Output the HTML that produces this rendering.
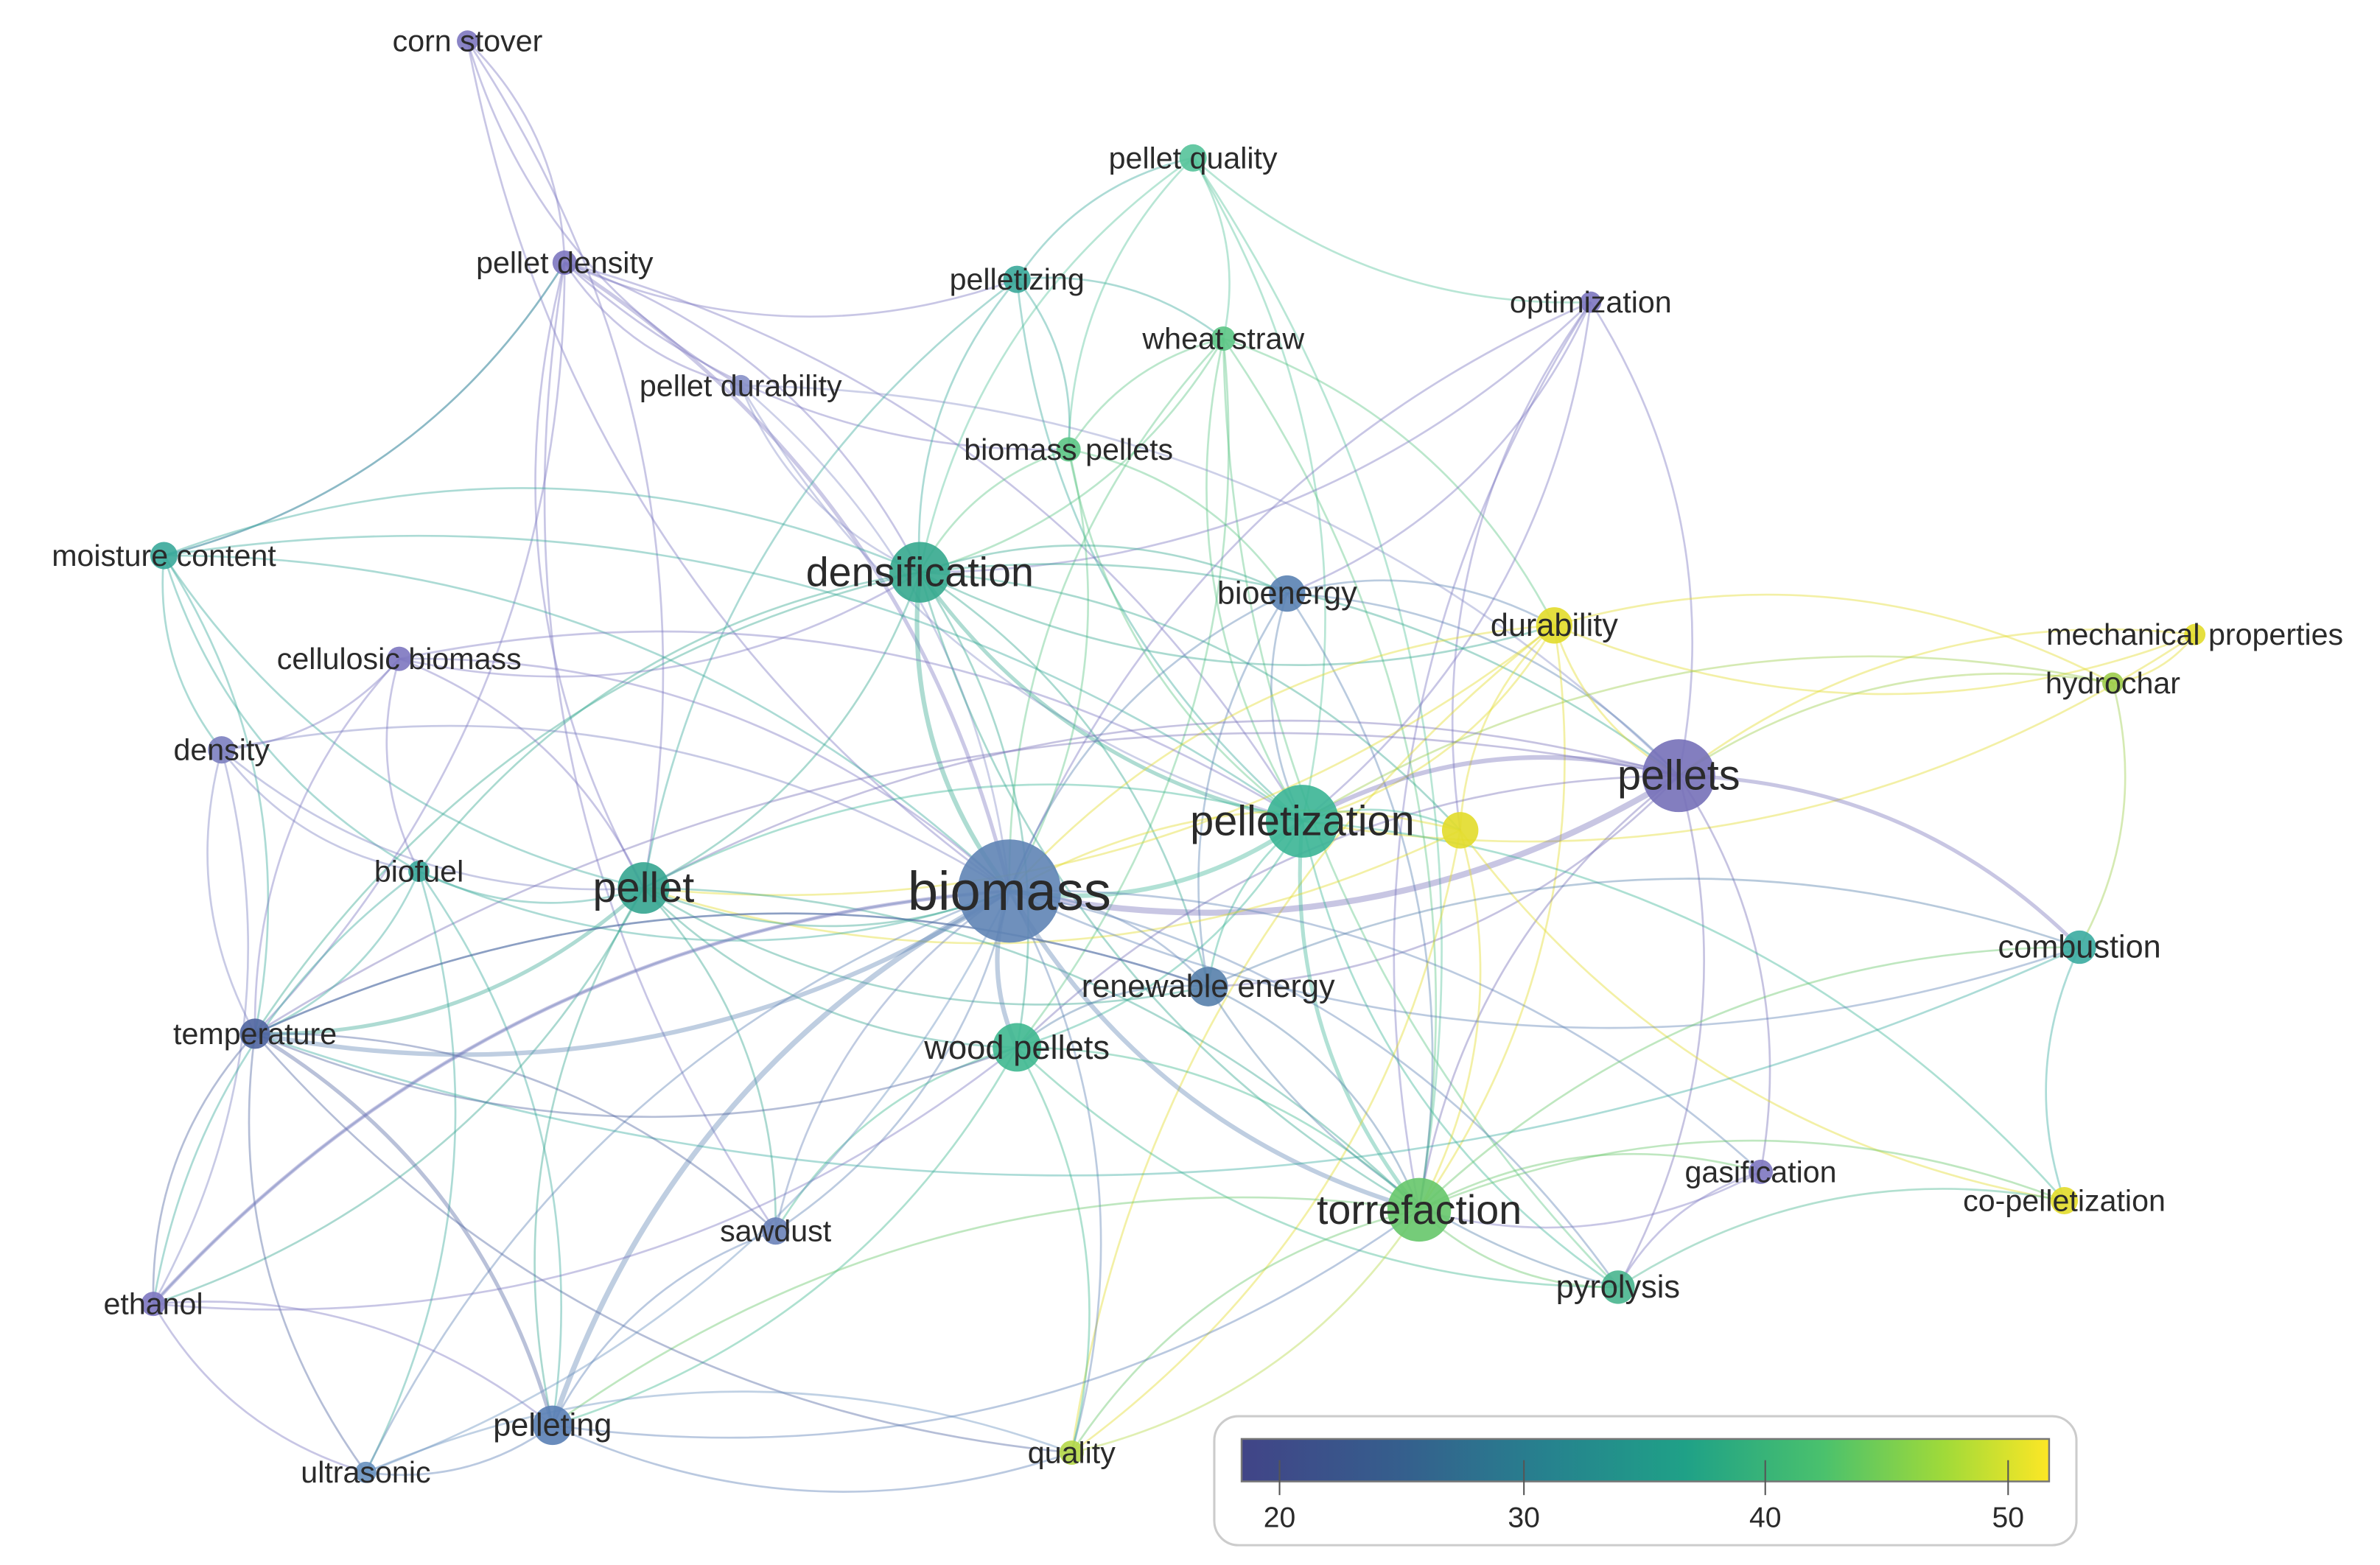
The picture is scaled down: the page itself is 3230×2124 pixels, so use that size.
<!DOCTYPE html>
<html><head><meta charset="utf-8">
<style>
html,body{margin:0;padding:0;background:#fff;}
svg{display:block;}
text{font-family:"Liberation Sans",sans-serif;fill:#2a2a2a;text-anchor:middle;dominant-baseline:central;}
</style></head>
<body>
<svg id="g" width="3230" height="2124" viewBox="0 0 1568 1031" xmlns="http://www.w3.org/2000/svg">
<defs>
<linearGradient id="vir" x1="0" x2="1" y1="0" y2="0">
<stop offset="0" stop-color="#414487"/>
<stop offset="0.2" stop-color="#355f8d"/>
<stop offset="0.38" stop-color="#26828e"/>
<stop offset="0.55" stop-color="#1fa187"/>
<stop offset="0.72" stop-color="#4ac16d"/>
<stop offset="0.87" stop-color="#a0da39"/>
<stop offset="1" stop-color="#fde725"/>
</linearGradient>
</defs>
<g id="edges" fill="none"></g>
<g id="nodes"></g>
<g id="labels"></g>
<rect x="800" y="933" width="568" height="85" rx="16" fill="#fff" stroke="#ccc" stroke-width="1.5"/>
<rect x="818" y="948" width="532" height="28" fill="url(#vir)" stroke="#777" stroke-width="1.2"/>
<g stroke="#555" stroke-width="1">
<line x1="843" y1="962" x2="843" y2="985"/><line x1="1004" y1="962" x2="1004" y2="985"/>
<line x1="1163" y1="962" x2="1163" y2="985"/><line x1="1323" y1="962" x2="1323" y2="985"/>
</g>
<g style="font-size:19px">
<text x="843" y="1000">20</text><text x="1004" y="1000">30</text>
<text x="1163" y="1000">40</text><text x="1323" y="1000">50</text>
</g>
</svg>
<script>
var P="#7d77c0",B="#5a82b3",T="#3aa99a",G="#5cc585",L="#77cc55",Y="#e2dc2a";
var N={
cs:[308,27,7,P,"corn stover",20],
pq:[786,104,9,"#55c39a","pellet quality",20],
pd:[372,173,8,P,"pellet density",20],
pz:[670,184,9,T,"pelletizing",20],
ws:[806,223,8,G,"wheat straw",20],
op:[1048,199,7,P,"optimization",20],
pdu:[488,254,7,"#8790c8","pellet durability",20],
bp:[704,296,8,G,"biomass pellets",20],
mc:[108,366,9,T,"moisture content",20],
de:[606,377,20,"#35a88e","densification",27],
be:[848,391,12,B,"bioenergy",21],
du:[1024,412,12,Y,"durability",21],
mp:[1446,418,7,Y,"mechanical properties",20],
hc:[1392,450,7,"#9ccc4a","hydrochar",20],
cb:[263,434,8,P,"cellulosic biomass",20],
dn:[146,494,9,"#7c80c0","density",20],
ps:[1106,511,24,"#7670b8","pellets",28],
pt:[858,541,24,"#3bb595","pelletization",28],
yy:[962,547,12,Y,"",19],
bf:[276,574,7,T,"biofuel",20],
pl:[424,585,17,"#35a590","pellet",28],
bm:[665,587,34,"#5f84b5","biomass",36],
re:[796,650,13,"#5680ab","renewable energy",21],
co:[1370,624,11,"#3aaba0","combustion",21],
wp:[670,690,16,"#3fb890","wood pellets",22],
te:[168,681,10,"#4f65a0","temperature",20],
ga:[1160,772,8,P,"gasification",20],
to:[935,797,21,"#66c66a","torrefaction",27],
cp:[1360,791,9,Y,"co-pelletization",20],
sd:[511,811,9,"#6a82b8","sawdust",20],
py:[1066,848,11,"#48b58e","pyrolysis",21],
et:[101,859,8,P,"ethanol",20],
pg:[364,939,13,"#5a7fb5","pelleting",21],
us:[241,970,7,"#6891bf","ultrasonic",20],
q:[706,957,8,"#b5d848","quality",20]
};
var E="cs-pd cs-bm cs-pl cs-pdu pd-bm pd-pz pd-de pd-bp pd-mc pd-pl pd-te pd-sd pd-pt pd-pdu pz-pq pz-de pz-bp pz-pt pz-ws pz-pl pq-ws pq-de pq-pt pq-op pq-to pq-bp ws-de ws-pt ws-to ws-bp ws-du ws-bm ws-wp ws-py op-ps op-bm op-be op-to op-pt op-yy op-de pdu-de pdu-bm pdu-pt pdu-ps bp-de bp-bm bp-pt bp-be mc-dn mc-te mc-pl mc-bm mc-bf mc-de mc-pd mc-pt de-bm de-pl de-pt de-wp de-to de-be de-du de-ps de-bf de-re de-te de-yy be-bm be-ps be-pt be-to be-re be-du du-ps du-pt du-yy du-hc du-mp du-to du-bm du-pl du-q mp-hc mp-ps mp-pt hc-ps hc-co hc-pt cb-bm cb-bf cb-dn cb-te cb-pl cb-de cb-pt dn-te dn-et dn-bf dn-bm dn-pl ps-bm ps-pt ps-co ps-to ps-py ps-pl ps-re ps-wp ps-ga ps-te pt-bm pt-to pt-wp pt-pl pt-yy pt-re pt-cp pt-py yy-to yy-bm yy-q yy-cp yy-pl bf-bm bf-te bf-pl bf-pg bf-et bf-us pl-bm pl-te pl-wp pl-to pl-pg pl-sd pl-re pl-et bm-wp bm-re bm-to bm-te bm-pg bm-sd bm-et bm-py bm-co bm-ga bm-us bm-q re-wp re-to re-py re-co re-te wp-to wp-py wp-pg wp-sd wp-q to-py to-ga to-q to-co to-pg to-cp co-cp co-te ga-py ga-to te-et te-pg te-us te-sd te-wp te-re te-q et-pg et-us et-bm et-wp pg-us pg-q pg-sd pg-to us-q us-bm sd-bm q-to py-cp".split(" ");
var thick={"bm-pl":3,"bm-ps":4,"ps-bm":4,"de-bm":3,"bm-pg":3.5,"pt-bm":3,"bm-te":3,"bm-wp":3,"bm-to":3,"pl-te":2.5,"te-pg":2.5,"et-bm":2.5,"ps-pt":3,"pd-bm":2.5,"de-pt":2.5,"pt-to":2.5,"ps-co":2.5};
var eg=document.getElementById("edges"),ng=document.getElementById("nodes"),lg=document.getElementById("labels");
var s="";
E.forEach(function(e,i){var k=e.split("-"),a=N[k[0]],b=N[k[1]];if(!a||!b)return;
var dx=b[0]-a[0],dy=b[1]-a[1],c=(i%2?0.2:-0.2);
var mx=(a[0]+b[0])/2-dy*c,my=(a[1]+b[1])/2+dx*c;
var w=thick[e]||1.3;
s+='<path d="M'+a[0]+' '+a[1]+' Q'+mx.toFixed(1)+' '+my.toFixed(1)+' '+b[0]+' '+b[1]+'" stroke="'+a[3]+'" stroke-opacity="'+(w>2?0.4:0.42)+'" stroke-width="'+w+'"/>';});
eg.innerHTML=s;
var n="",l="";
for(var k in N){var d=N[k];n+='<circle cx="'+d[0]+'" cy="'+d[1]+'" r="'+d[2]+'" fill="'+d[3]+'" fill-opacity="0.9"/>';
if(d[4])l+='<text x="'+d[0]+'" y="'+d[1]+'" style="font-size:'+d[5]+'px">'+d[4]+'</text>';}
ng.innerHTML=n;lg.innerHTML=l;
</script>
</body></html>
